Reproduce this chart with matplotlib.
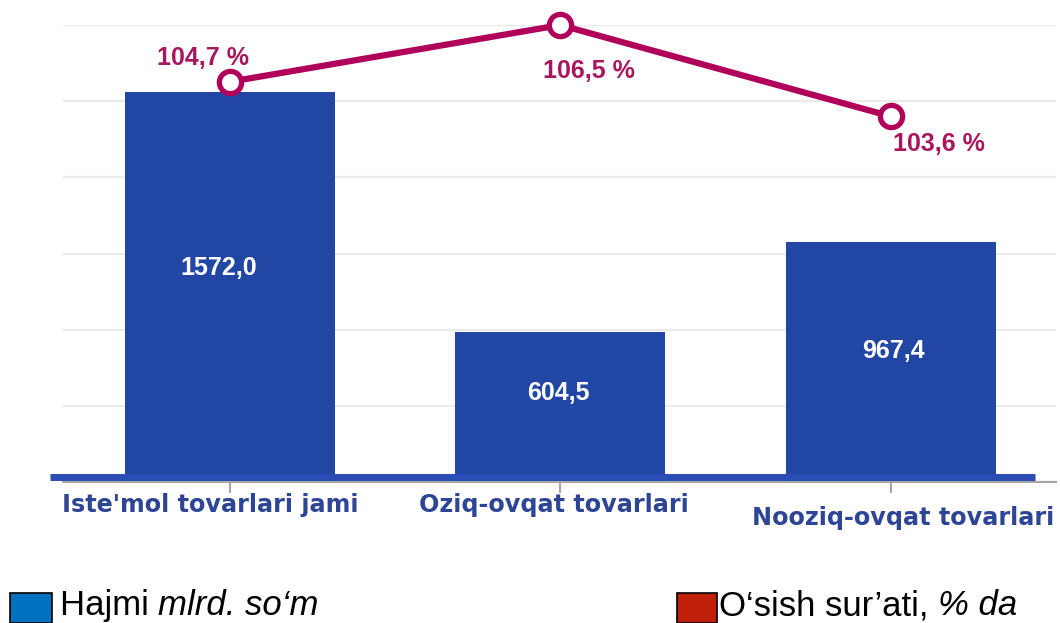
import numpy as np
import matplotlib.pyplot as plt
from matplotlib.patches import Rectangle

categories = ["Iste'mol tovarlari jami", "Oziq-ovqat tovarlari", "Nooziq-ovqat tovarlari"]
volume = [1572.0, 604.5, 967.4]          # Hajmi, mlrd. so'm
growth = [104.7, 106.5, 103.6]           # O'sish sur'ati, %
volume_labels = ["1572,0", "604,5", "967,4"]
growth_labels = ["104,7 %", "106,5 %", "103,6 %"]

bar_color = '#2246A4'
line_color = '#B0005A'
pct_color = '#A8175E'
cat_color = '#2E4596'

plt.rcParams['font.family'] = ['Liberation Sans', 'DejaVu Sans']

fig = plt.figure(figsize=(10.6, 6.23), dpi=100)
ax = fig.add_axes([0.0594, 0.2263, 0.937, 0.7335])
x = np.arange(len(categories))

ymax = 1842
ax.bar(x, volume, width=0.635, color=bar_color, zorder=2)
ax.set_xlim(-0.505, 2.5)
ax.set_ylim(0, ymax)
ax.set_yticks(np.linspace(0, ymax, 7))
ax.yaxis.grid(True, color='#EBEBEB', linewidth=1.6, zorder=0)
ax.set_axisbelow(True)
for s in ['top', 'right', 'left']:
    ax.spines[s].set_visible(False)
ax.spines['bottom'].set_color('#A6A6A6')
ax.spines['bottom'].set_linewidth(1.5)
ax.set_xticks(x)
ax.set_xticklabels([])
ax.tick_params(axis='x', direction='out', length=8, width=1.5, color='#A6A6A6')

# thick blue base line just above the axis
ax.plot([-0.013, 0.979], [0.011, 0.011], transform=ax.transAxes, color='#2A4DB5',
        linewidth=5, solid_capstyle='butt', clip_on=False, zorder=3)

# category labels, placed a bit irregularly like the original
cat_offsets = [(-20, -11), (-7, -11), (12, -24)]
for i, (lab, off) in enumerate(zip(categories, cat_offsets)):
    ax.annotate(lab, xy=(i, 0), xytext=off, textcoords='offset pixels',
                ha='center', va='top', fontsize=17.2, fontweight='bold',
                color=cat_color, family=['DejaVu Sans'], annotation_clip=False)

# bar values
val_offsets = [(-11, 19), (-2, 14), (3, 11)]
for i, (v, lab, off) in enumerate(zip(volume, volume_labels, val_offsets)):
    ax.annotate(lab, xy=(i, v / 2), xytext=off, textcoords='offset pixels',
                ha='center', va='center', fontsize=18, fontweight='bold', color='white')

# growth line on a secondary axis
ax2 = ax.twinx()
ax2.set_ylim(92, 106.5)
ax2.axis('off')
ax.tick_params(axis='y', left=False, right=False, labelleft=False, labelright=False)
ax2.plot(x, growth, color=line_color, linewidth=4.5, marker='o', markersize=16,
         markerfacecolor='white', markeredgecolor=line_color, markeredgewidth=3.8,
         clip_on=False, zorder=5)
pct_offsets = [(-27, 24), (29, -46), (48, -28)]
for i, (g, lab, off) in enumerate(zip(growth, growth_labels, pct_offsets)):
    ax2.annotate(lab, xy=(i, g), xytext=off, textcoords='offset pixels',
                 ha='center', va='center', fontsize=18, fontweight='bold',
                 color=pct_color, annotation_clip=False)

# legend drawn by hand (mixed upright / italic text)
fig.patches.append(Rectangle((10 / 1060, 0), 42 / 1060, 30 / 623, transform=fig.transFigure,
                             facecolor='#0070C0', edgecolor='black', linewidth=1.2))
fig.patches.append(Rectangle((677 / 1060, 0), 40 / 1060, 30 / 623, transform=fig.transFigure,
                             facecolor='#C0200A', edgecolor='black', linewidth=1.2))
t1 = fig.text(60 / 1060, 8 / 623, "Hajmi ", fontsize=25, va='baseline')
fig.canvas.draw()
ax.annotate("mlrd. so\u2018m", xy=(1, 0), xycoords=t1, va='bottom', fontsize=25, style='italic')
t2 = fig.text(719 / 1060, 8 / 623, "O\u2018sish sur\u2019ati, ", fontsize=25, va='baseline')
ax.annotate("% da", xy=(1, 0), xycoords=t2, va='bottom', fontsize=25, style='italic')

fig.savefig('out.png', dpi=100)
